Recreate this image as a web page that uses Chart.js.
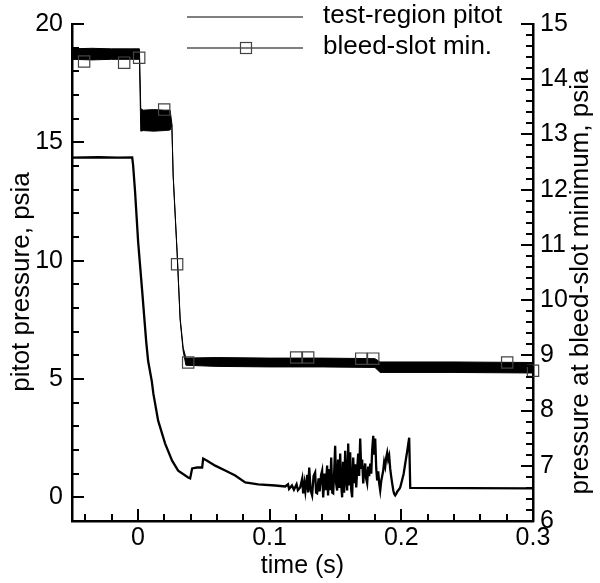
<!DOCTYPE html>
<html>
<head>
<meta charset="utf-8">
<script src="https://cdn.jsdelivr.net/npm/chart.js@4.4.1/dist/chart.umd.min.js"></script>
<style>
  html, body { margin: 0; padding: 0; background: #fff; }
  #wrap { position: relative; width: 600px; height: 583px; }
</style>
</head>
<body>
<div id="wrap"><canvas id="chart"></canvas></div>
<script>
// tick labels
const xTicks = [0, 0.1, 0.2, 0.3];
const yLeftTicks = [0, 5, 10, 15, 20];
const yRightTicks = [6, 7, 8, 9, 10, 11, 12, 13, 14, 15];

// test-region pitot, psia (left axis), time in s
const pitotTime = [
  -0.05, -0.03, -0.015, -0.0043, -0.0036, -0.0021, 0.0002, 0.0033, 0.0063, 0.0078,
  0.0106, 0.0118, 0.0154, 0.0207, 0.026, 0.0306, 0.0382, 0.0397, 0.0412, 0.045,
  0.0488, 0.0496, 0.0526, 0.0587, 0.0663, 0.0739, 0.0815, 0.0914, 0.1043, 0.1119,
  0.114, 0.1148, 0.117, 0.1185, 0.1205, 0.1215, 0.1232, 0.1248, 0.1255, 0.1265,
  0.1272, 0.1286, 0.1293, 0.1301, 0.1312, 0.1323, 0.1334, 0.1346, 0.1353, 0.1361,
  0.1372, 0.138, 0.1391, 0.1399, 0.1407, 0.1418, 0.1426, 0.1437, 0.1444, 0.1452,
  0.146, 0.1468, 0.1476, 0.1483, 0.149, 0.1498, 0.1505, 0.1513, 0.152, 0.1528,
  0.1536, 0.1544, 0.1551, 0.1558, 0.1566, 0.1574, 0.1582, 0.1589, 0.1597, 0.1605,
  0.1612, 0.162, 0.1627, 0.1635, 0.1642, 0.165, 0.1658, 0.1665, 0.1673, 0.168,
  0.1688, 0.1696, 0.1703, 0.1711, 0.1718, 0.1726, 0.1733, 0.1741, 0.1749, 0.1756,
  0.1764, 0.1772, 0.1779, 0.1787, 0.1795, 0.1802, 0.181, 0.1817, 0.1825, 0.1832,
  0.184, 0.1848, 0.1855, 0.1863, 0.187, 0.1878, 0.1886, 0.1893, 0.19, 0.1908,
  0.1916, 0.1923, 0.1931, 0.1939, 0.1946, 0.1954, 0.1962, 0.197, 0.1985, 0.1992,
  0.2005, 0.2018, 0.203, 0.2045, 0.206, 0.2068, 0.25, 0.3
];
const pitotValue = [
  14.35, 14.37, 14.35, 14.36, 14.03, 12.9, 10.8, 8.7, 6.6, 5.76,
  4.9, 4.37, 3.24, 2.27, 1.55, 1.13, 0.84, 0.8, 1.22, 1.26,
  1.26, 1.64, 1.55, 1.34, 1.13, 0.92, 0.63, 0.55, 0.5, 0.46,
  0.55, 0.35, 0.5, 0.32, 0.55, 0.3, 0.42, 0.8, 0.17, 0.6,
  0.25, 0.95, 0.21, 1.26, 0.3, 0.08, 0.9, 1.05, 0.2, 0.17,
  0.8, 0.25, 0.95, 1.13, 0.0, 1.0, 0.3, 1.34, 0.08, 1.2,
  0.3, 1.68, 0.2, 0.17, 1.0, 2.18, 0.6, 0.29, 1.6, 0.4,
  1.85, 0.5, 0.0, 1.5, 0.2, 1.97, 0.7, 0.29, 2.27, 0.5,
  1.9, 0.3, 0.0, 1.68, 0.6, 1.4, 0.42, 1.2, 1.85, 0.9,
  2.48, 1.2, 1.6, 0.59, 1.1, 1.43, 0.8, 0.59, 1.3, 0.9,
  1.43, 1.0, 2.0, 2.6, 1.8, 2.48, 1.2, 0.71, 1.1, 0.6,
  0.29, 0.7, 0.9, 1.13, 1.5, 1.3, 1.7, 1.89, 1.6, 1.76,
  1.2, 0.9, 0.59, 0.3, 0.15, 0.08, 0.15, 0.25, 0.35, 0.42,
  0.7, 1.0, 1.43, 1.95, 2.52, 0.4, 0.39, 0.38
];

// bleed-slot minimum, psia (right axis): edges of the noise band
const bleedTime = [
  -0.05, -0.035, -0.02, -0.005, 0.0012, 0.0022, 0.004, 0.012, 0.02, 0.0245,
  0.0258, 0.0268, 0.0298, 0.0321, 0.0344, 0.0365, 0.06, 0.1, 0.14, 0.18,
  0.184, 0.24, 0.3
];
const bleedHigh = [
  14.55, 14.56, 14.55, 14.55, 14.55, 13.47, 13.44, 13.45, 13.44, 13.44,
  13.2, 12.27, 10.88, 9.68, 9.14, 8.95, 8.96, 8.95, 8.95, 8.94,
  8.88, 8.88, 8.87
];
const bleedLow = [
  14.36, 14.35, 14.36, 14.36, 14.36, 13.06, 13.07, 13.06, 13.07, 13.08,
  13.18, 12.24, 10.85, 9.64, 9.08, 8.82, 8.8, 8.79, 8.79, 8.78,
  8.69, 8.69, 8.68
];

// square symbols on the bleed-slot trace
const markTime = [-0.0408, -0.0104, 0.001, 0.02, 0.0298, 0.0382, 0.1202, 0.1293, 0.1696, 0.1787, 0.2804, 0.3];
const markValue = [14.32, 14.3, 14.39, 13.45, 10.65, 8.87, 8.96, 8.96, 8.94, 8.94, 8.87, 8.72];

const FONT = '"Liberation Sans", Arial, Helvetica, sans-serif';
const TICK_SIZE = 25;
const TEXT_SIZE = 26;

const toPoints = (xs, ys) => xs.map((x, i) => ({ x, y: ys[i] }));

// inward tick marks, legend and axis titles
const decorations = {
  id: 'decorations',
  afterDraw(chart) {
    const ctx = chart.ctx;
    const a = chart.chartArea;
    const sx = chart.scales.x;
    const sy = chart.scales.y;
    const sy2 = chart.scales.y2;
    ctx.save();
    ctx.fillStyle = '#000';
    for (let i = -2; i <= 14; i++) {
      const px = Math.round(sx.getPixelForValue(i * 0.02));
      const len = i % 5 === 0 ? 12 : 7;
      ctx.fillRect(px - 1, a.bottom - len, 2, len);
    }
    for (let v = 0; v <= 20; v++) {
      const py = Math.round(sy.getPixelForValue(v));
      const len = v % 5 === 0 ? 12 : 7;
      ctx.fillRect(a.left, py - 1, len, 2);
    }
    for (let i = 31; i <= 75; i++) {
      const py = Math.round(sy2.getPixelForValue(i * 0.2));
      const len = i % 5 === 0 ? 12 : 7;
      ctx.fillRect(a.right - len, py - 1, len, 2);
    }

    // legend
    ctx.strokeStyle = '#000';
    ctx.lineWidth = 1.2;
    ctx.beginPath();
    ctx.moveTo(187, 17); ctx.lineTo(303, 17);
    ctx.moveTo(187, 48); ctx.lineTo(303, 48);
    ctx.stroke();
    ctx.strokeStyle = '#444';
    ctx.strokeRect(240.5, 42.5, 11, 11);

    ctx.font = `${TEXT_SIZE}px ${FONT}`;
    ctx.textAlign = 'left';
    ctx.textBaseline = 'middle';
    ctx.fillText('test-region pitot', 323, 16);
    ctx.fillText('bleed-slot min.', 323, 47);

    // axis titles
    ctx.textAlign = 'center';
    const midY = 282;
    ctx.font = `${TICK_SIZE}px ${FONT}`;
    ctx.fillText('time (s)', (a.left + a.right) / 2, 566);
    ctx.font = `${TEXT_SIZE}px ${FONT}`;
    ctx.save();
    ctx.translate(22, midY);
    ctx.rotate(-Math.PI / 2);
    ctx.fillText('pitot pressure, psia', 0, 0);
    ctx.restore();
    ctx.save();
    ctx.translate(581, midY);
    ctx.rotate(-Math.PI / 2);
    ctx.fillText('pressure at bleed-slot minimum, psia', 0, 0);
    ctx.restore();
    ctx.restore();
  },
};

const tickFont = { family: FONT, size: TICK_SIZE };
const axisBorder = { display: true, color: '#000', width: 2.5 };

new Chart(document.getElementById('chart'), {
  type: 'line',
  data: {
    datasets: [
      {
        label: 'bleed-slot min. symbols',
        data: toPoints(markTime, markValue),
        yAxisID: 'y2',
        showLine: false,
        pointStyle: 'rect',
        pointRadius: 8,
        pointBorderColor: '#444',
        pointBorderWidth: 1.2,
        pointBackgroundColor: 'rgba(0,0,0,0)',
        clip: false,
        order: 0,
      },
      {
        label: 'test-region pitot',
        data: toPoints(pitotTime, pitotValue),
        yAxisID: 'y',
        borderColor: '#000',
        borderWidth: 2.3,
        pointRadius: 0,
        tension: 0,
        fill: false,
        order: 1,
      },
      {
        label: 'bleed-slot min. high',
        data: toPoints(bleedTime, bleedHigh),
        yAxisID: 'y2',
        borderColor: '#000',
        borderWidth: 1,
        pointRadius: 0,
        fill: false,
        order: 2,
      },
      {
        label: 'bleed-slot min. low',
        data: toPoints(bleedTime, bleedLow),
        yAxisID: 'y2',
        borderColor: '#000',
        backgroundColor: '#000',
        borderWidth: 1,
        pointRadius: 0,
        fill: '-1',
        order: 2,
      },
    ],
  },
  options: {
    responsive: true,
    maintainAspectRatio: false,
    animation: false,
    events: [],
    layout: { padding: { top: 21, left: 0, right: 0, bottom: 0 } },
    plugins: { legend: { display: false }, tooltip: { enabled: false } },
    scales: {
      x: {
        type: 'linear',
        position: 'bottom',
        min: -0.05,
        max: 0.3,
        afterBuildTicks: (s) => { s.ticks = xTicks.map((v) => ({ value: v })); },
        afterFit: (s) => { s.height = 62; },
        grid: { display: false, drawTicks: false },
        border: axisBorder,
        ticks: { autoSkip: false, maxRotation: 0, padding: 2, color: '#000', font: tickFont, callback: (v) => String(v) },
      },
      y: {
        type: 'linear',
        position: 'left',
        min: -1,
        max: 20,
        afterBuildTicks: (s) => { s.ticks = yLeftTicks.map((v) => ({ value: v })); },
        afterFit: (s) => { s.width = 72; },
        grid: { display: false, drawTicks: false },
        border: axisBorder,
        ticks: { autoSkip: false, padding: 9, color: '#000', font: tickFont, callback: (v) => String(v) },
      },
      y2: {
        type: 'linear',
        position: 'right',
        min: 6,
        max: 15,
        afterBuildTicks: (s) => { s.ticks = yRightTicks.map((v) => ({ value: v })); },
        afterFit: (s) => { s.width = 67; },
        grid: { display: false, drawTicks: false },
        border: axisBorder,
        ticks: { autoSkip: false, padding: 7, color: '#000', font: tickFont, callback: (v) => String(v) },
      },
    },
  },
  plugins: [decorations],
});
</script>
</body>
</html>
